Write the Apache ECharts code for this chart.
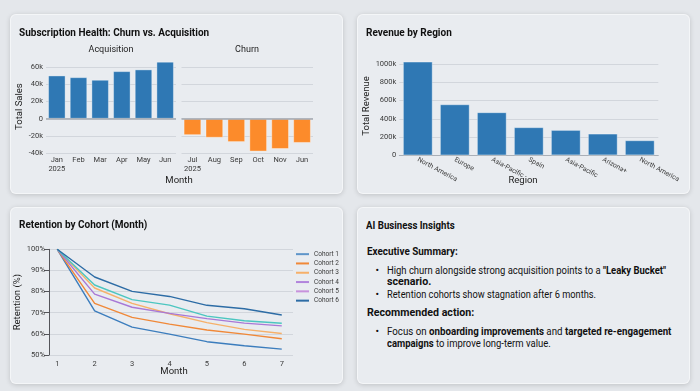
<!DOCTYPE html>
<html>
<head>
<meta charset="utf-8">
<script src="https://cdn.jsdelivr.net/npm/echarts@6/dist/echarts.min.js"></script>
<style>
  html,body{margin:0;padding:0;background:#e4e7eb;width:700px;height:391px;overflow:hidden;font-family:Roboto,sans-serif;}
  .card{position:absolute;background:#e9ecf0;border-radius:6px;box-shadow:0 1px 5px rgba(0,0,0,0.16), inset 0 0 0 1px rgba(255,255,255,0.5);}
  #chart{position:absolute;left:0;top:0;width:700px;height:391px;}
  .t{position:absolute;white-space:nowrap;color:#111;transform-origin:0 50%;font-size:10.5px;line-height:12px;}
  .b{font-weight:bold;}
</style>
</head>
<body>
<div class="card" style="left:10px;top:14px;width:333px;height:180px"></div>
<div class="card" style="left:357px;top:14px;width:333px;height:180px"></div>
<div class="card" style="left:10px;top:207px;width:333px;height:177px"></div>
<div class="card" id="insights" style="left:357px;top:207px;width:333px;height:177px">
  <div class="t b fit" data-w="88.7" style="left:9px;top:12.7px;font-size:10px;">AI Business Insights</div>
  <div class="t b fit" data-w="90.7" style="left:9.7px;top:39.3px;font-size:10.8px;">Executive Summary:</div>
  <div class="t" style="left:18.5px;top:58px;">•</div>
  <div class="t fit" data-w="279" style="left:30.3px;top:58px;">High churn alongside strong acquisition points to a <b>"Leaky Bucket"</b></div>
  <div class="t fit b" data-w="44.3" style="left:30.3px;top:69.3px;">scenario.</div>
  <div class="t" style="left:18.5px;top:82px;">•</div>
  <div class="t fit" data-w="209" style="left:30.3px;top:82px;">Retention cohorts show stagnation after 6 months.</div>
  <div class="t b fit" data-w="107.3" style="left:9.7px;top:100.3px;font-size:10.8px;">Recommended action:</div>
  <div class="t" style="left:18.5px;top:118.7px;">•</div>
  <div class="t fit" data-w="284.4" style="left:30.3px;top:118.7px;">Focus on <b>onboarding improvements</b> and <b>targeted re-engagement</b></div>
  <div class="t fit" data-w="163.7" style="left:30.3px;top:131.3px;"><b>campaigns</b> to improve long-term value.</div>
</div>
<div id="chart"></div>
<script>
// fit insight text lines horizontally to the reference line lengths
document.querySelectorAll('.fit').forEach(el => {
  const w = el.getBoundingClientRect().width;
  const target = parseFloat(el.dataset.w);
  if (w > 0) el.style.transform = 'scaleX(' + (target / w).toFixed(4) + ')';
});

// ---- data ----
const acqMonths = ['Jan\n2025', 'Feb', 'Mar', 'Apr', 'May', 'Jun'];
const acqValues = [50000, 48000, 45000, 55000, 57000, 66000];
const churnMonths = ['Jul\n2025', 'Aug', 'Sep', 'Oct', 'Nov', 'Jun'];
const churnValues = [-19000, -22000, -27000, -38000, -35000, -28000];

const regions = ['North America', 'Europe', 'Asia-Pacific', 'Spain', 'Asia-Pacific', 'Arizona+', 'North America'];
const revenue = [1025000, 558000, 471000, 307000, 277000, 237000, 164000];

const cohortMonths = [1, 2, 3, 4, 5, 6, 7];
const cohortNames = ['Cohort 1', 'Cohort 2', 'Cohort 3', 'Cohort 4', 'Cohort 5', 'Cohort 6'];
const cohort1 = [100, 70.9, 63.2, 59.9, 56.3, 54.4, 52.8];
const cohort2 = [100, 74.4, 67.8, 64.6, 61.8, 59.9, 57.7];
const cohort3 = [100, 81.7, 74.4, 69.5, 65.3, 62.1, 60.2];
const cohort4 = [100, 78.8, 72.6, 69.7, 67.2, 65.1, 63.8];
const cohort5 = [100, 83.1, 76.2, 73.6, 68.4, 66.2, 65.0];
const cohort6 = [100, 86.9, 80.1, 77.7, 73.5, 71.9, 68.9];
const cohorts = [cohort1, cohort2, cohort3, cohort4, cohort5, cohort6];

// ---- styles ----
const FONT = 'Roboto';
const BLUE = '#2f78b4';
const ORANGE = '#fc8b2b';
const GRID = '#d2d6dc';
const LABEL = '#3a3a3a';
const cohortColors = ['#3c7dbd', '#f08838', '#f6b06a', '#a878d6', '#4cc6c0', '#2d6ca5'];
const cohortLegendColors = ['#5e95c9', '#f08838', '#f6b06a', '#b184dc', '#c892dc', '#2d6ca5'];

const kFmt = v => v === 0 ? '0' : (v / 1000) + 'k';

const chart = echarts.init(document.getElementById('chart'), null, {renderer: 'canvas'});

const tick = {fontFamily: FONT, fontSize: 7.5, color: LABEL};
const axisName = {fontFamily: FONT, fontSize: 9.5, color: '#222'};

function txt(x, y, s, size, bold, align) {
  return {type: 'text', x: x, y: y, silent: true,
    style: {text: s, fontFamily: FONT, fontSize: size, fontWeight: bold ? 'bold' : 'normal',
      fill: bold ? '#111' : '#222', textAlign: align || 'left', textVerticalAlign: 'middle'}};
}

const option = {
  animation: false,
  textStyle: {fontFamily: FONT},
  graphic: [
    txt(19, 33, 'Subscription Health: Churn vs. Acquisition', 10, true),
    txt(111, 50, 'Acquisition', 9, false, 'center'),
    txt(247, 50, 'Churn', 9, false, 'center'),
    txt(179, 181, 'Month', 9.5, false, 'center'),
    txt(366, 33, 'Revenue by Region', 10, true),
    txt(523, 181, 'Region', 9.5, false, 'center'),
    txt(19, 225, 'Retention by Cohort (Month)', 10, true),
    txt(174, 372, 'Month', 9.5, false, 'center')
  ],
  legend: {
    orient: 'vertical', left: 296, top: 249.5, padding: 0, itemWidth: 13, itemHeight: 2, itemGap: 0,
    icon: 'rect',
    textStyle: {fontFamily: FONT, fontSize: 6.5, color: LABEL, lineHeight: 9.3},
    data: cohortNames.map((n, i) => ({name: n, itemStyle: {color: cohortLegendColors[i]}}))
  },
  grid: [
    {left: 46, top: 60, width: 130, height: 93.2},
    {left: 181.5, top: 60, width: 131.5, height: 93.2},
    {left: 399.3, top: 56.7, width: 259, height: 98.6},
    {left: 49, top: 249.3, width: 244, height: 105.7}
  ],
  xAxis: [
    {type: 'category', gridIndex: 0, data: acqMonths, axisLine: {show: false, onZero: false}, axisTick: {show: false},
      axisLabel: Object.assign({margin: 3, lineHeight: 8.5, interval: 0}, tick)},
    {type: 'category', gridIndex: 1, data: churnMonths, axisLine: {show: false, onZero: false}, axisTick: {show: false},
      axisLabel: Object.assign({margin: 3, lineHeight: 8.5, interval: 0}, tick)},
    {type: 'category', gridIndex: 2, data: regions, axisLine: {show: true, lineStyle: {color: '#a9afb7', width: 1}}, axisTick: {show: false},
      axisLabel: Object.assign({}, tick, {margin: 4, rotate: -28, interval: 0, fontSize: 6.8})},
    {type: 'value', gridIndex: 3, min: 0.78, max: 7.3, splitNumber: 6, splitLine: {show: false}, axisLine: {show: false}, axisTick: {show: false},
      axisLabel: Object.assign({margin: 5, showMinLabel: false, showMaxLabel: false}, tick)}
  ],
  yAxis: [
    {type: 'value', gridIndex: 0, min: -40000, max: 68000, interval: 20000,
      splitLine: {lineStyle: {color: GRID}, showMaxLine: false},
      axisLabel: Object.assign({margin: 3, formatter: kFmt, showMaxLabel: false}, tick),
      name: 'Total Sales', nameLocation: 'middle', nameGap: 14, nameTextStyle: axisName},
    {type: 'value', gridIndex: 1, min: -40000, max: 68000, interval: 20000,
      splitLine: {lineStyle: {color: GRID}, showMaxLine: false}, axisLabel: {show: false}},
    {type: 'value', gridIndex: 2, min: 0, max: 1080000, interval: 200000,
      splitLine: {lineStyle: {color: GRID}, showMaxLine: false, showMinLine: false},
      axisLabel: Object.assign({margin: 3, formatter: kFmt, showMaxLabel: false}, tick),
      name: 'Total Revenue', nameLocation: 'middle', nameGap: 19, nameTextStyle: axisName},
    {type: 'value', gridIndex: 3, min: 50, max: 100, interval: 10,
      splitLine: {lineStyle: {color: GRID}},
      axisLabel: Object.assign({margin: 4, formatter: '{value}%'}, tick),
      name: 'Retention (%)', nameLocation: 'middle', nameGap: 17, nameTextStyle: axisName}
  ],
  series: [
    {type: 'bar', xAxisIndex: 0, yAxisIndex: 0, data: acqValues, barCategoryGap: '20%',
      itemStyle: {color: BLUE, borderColor: 'rgba(255,255,255,0.45)', borderWidth: 0.8},
      markLine: {silent: true, symbol: 'none', label: {show: false}, lineStyle: {color: '#a3a9b1', type: 'solid', width: 1.5}, data: [{yAxis: 0}]}},
    {type: 'bar', xAxisIndex: 1, yAxisIndex: 1, data: churnValues, barCategoryGap: '20%',
      itemStyle: {color: ORANGE, borderColor: 'rgba(255,255,255,0.45)', borderWidth: 0.8},
      markLine: {silent: true, symbol: 'none', label: {show: false}, lineStyle: {color: '#a3a9b1', type: 'solid', width: 1.5}, data: [{yAxis: 0}]}},
    {type: 'bar', xAxisIndex: 2, yAxisIndex: 2, data: revenue, barCategoryGap: '20%',
      itemStyle: {color: BLUE, borderColor: 'rgba(255,255,255,0.45)', borderWidth: 0.8}}
  ].concat(cohorts.map((c, i) => ({
    type: 'line', name: cohortNames[i], xAxisIndex: 3, yAxisIndex: 3,
    data: cohortMonths.map((m, j) => [m, c[j]]),
    showSymbol: false, lineStyle: {width: 1.4, color: cohortColors[i]}, itemStyle: {color: cohortColors[i]}
  })))
};
chart.setOption(option);
</script>
</body>
</html>
